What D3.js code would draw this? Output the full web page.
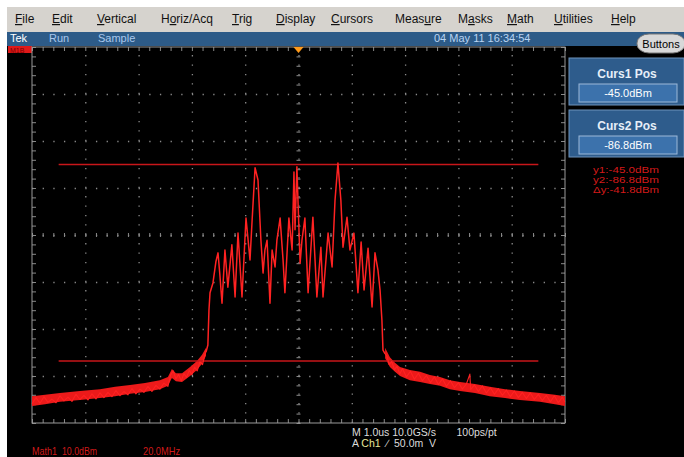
<!DOCTYPE html>
<html>
<head>
<meta charset="utf-8">
<script src="https://cdn.jsdelivr.net/npm/d3@7"></script>
<style>
  html, body { margin: 0; padding: 0; background: #fff; }
  svg { display: block; }
  text { font-family: "Liberation Sans", Arial, sans-serif; }
</style>
</head>
<body>
<svg id="scope"></svg>
<script>
// ---- data (MHz offset from centre, dBm) ----
let sigFreq = [-34.7, -34.0, -33.6, -33.2, -32.1, -31.0, -30.2, -29.5, -28.7, -27.6, -26.5, -25.0, -23.8, -22.7, -21.2,
  -19.7, -18.2, -17.4, -16.3, -15.2, -14.1, -13.3, -12.6, -11.8, -10.7, -9.9, -8.8, -8.1, -6.9, -5.8, -5.1, -3.6,
  -2.4, -1.7, -1.3, -0.6, -0.2, 0.6, 1.3, 2.4, 3.6, 5.4, 6.9, 8.4, 9.2, 11.1, 12.6, 13.7, 14.8, 15.9, 16.7, 18.2,
  19.3, 20.8, 22.3, 23.5, 24.6, 26.1, 27.6, 28.7, 29.8, 30.6, 31.3, 31.7, 32.5]
let sigDb = [-84.9, -83.4, -76.0, -72.3, -70.2, -65.7, -63.8, -68.5, -74.5, -63.2, -71.1, -62.1, -73.2, -59.6, -73.2,
  -56.4, -65.3, -56.8, -45.7, -48.3, -61.1, -68.1, -63.2, -61.1, -74.5, -63.2, -66.8, -61.1, -56.4, -65.3, -72.3, -56.4,
  -63.2, -46.6, -58.9, -45.5, -52.6, -66.0, -61.1, -56.4, -72.3, -56.2, -73.2, -62.6, -73.2, -59.6, -66.8, -52.6, -44.7, -52.6, -62.6, -56.2,
  -63.2, -59.6, -72.3, -61.5, -71.7, -62.8, -75.3, -63.8, -67.4, -71.7, -78.1, -84.5, -85.3]

// noise floor envelope
let floorFreqL = [-100, -95.1, -89.5, -82.0, -74.5, -68.8, -63.2, -57.6, -52.0, -49.0, -47.5, -46.0, -43.7, -40.7, -38.1, -36.2, -34.7]
let floorHiL = [-94.3, -94.0, -93.6, -93.2, -92.8, -92.3, -91.9, -91.5, -90.9, -90.2, -88.5, -89.4, -89.4, -88.1, -86.8, -85.5, -84.0]
let floorLoL = [-96.4, -96.0, -95.5, -95.1, -94.7, -94.3, -93.8, -93.4, -92.8, -92.1, -90.4, -91.1, -91.3, -90.0, -88.7, -87.4, -85.7]

let floorFreqR = [32.5, 34.3, 36.2, 38.1, 41.8, 45.6, 49.3, 53.1, 56.8, 60.6, 66.2, 71.8, 77.5, 83.1, 90.6, 96.2, 100]
let floorHiR = [-84.0, -86.0, -87.2, -88.1, -88.7, -89.1, -89.8, -90.2, -90.9, -91.3, -91.7, -92.3, -92.8, -93.2, -93.6, -94.0, -94.3]
let floorLoR = [-86.2, -88.1, -89.1, -90.0, -90.9, -91.3, -91.7, -92.1, -92.8, -93.2, -93.6, -94.3, -94.7, -95.1, -95.5, -96.0, -96.4]

// noise floor trace itself
let noiseFreqL = [-100, -98.5, -97, -95.5, -94, -92.5, -91, -89.5, -88, -86.5, -85, -83.5, -82, -80.5, -79, -77.5, -76,
  -74.5, -73, -71.5, -70, -68.5, -67, -65.5, -64, -62.5, -61, -59.5, -58, -56.5, -55, -53.5, -52, -50.5, -49, -48, -47,
  -46, -45, -44, -43, -42, -41, -40, -39, -38, -37, -36, -35, -34.7]
let noiseDbL = [-95.9, -94.6, -95.8, -94.4, -95.6, -94.9, -95.7, -94.2, -95.3, -94.5, -95.4, -93.9, -95.0, -94.1, -95.1, -93.8, -94.9,
  -93.6, -94.6, -93.5, -94.4, -93.1, -94.2, -93.3, -94.0, -92.7, -93.8, -92.8, -93.5, -92.2, -93.3, -92.0, -92.8, -91.5, -92.2, -89.8, -88.9,
  -90.6, -89.7, -91.0, -89.5, -90.3, -88.8, -89.7, -88.1, -88.9, -87.0, -87.6, -85.2, -84.9]
let noiseFreqR = [32.5, 33.2, 34, 35, 36, 37, 38, 39, 40.5, 42, 43.5, 45, 46.5, 48, 49.5, 51, 52.5, 54, 55.5, 57, 58.5, 60,
  61.5, 63, 64.3, 64.6, 66, 67.5, 69, 70.5, 72, 73.5, 75, 76.5, 78, 79.5, 81, 82.5, 84, 85.5, 87, 88.5, 90, 91.5, 93,
  94.5, 96, 97.5, 99, 100]
let noiseDbR = [-85.3, -85.8, -87.6, -86.9, -88.7, -87.9, -89.6, -88.4, -90.2, -89.0, -90.7, -89.4, -91.0, -89.9, -91.4, -90.2, -91.8, -90.6, -92.2, -91.0, -92.5, -91.4,
  -92.8, -91.7, -89.6, -92.9, -91.9, -93.3, -92.1, -93.6, -92.5, -93.9, -92.7, -94.1, -93.0, -94.4, -93.2, -94.6, -93.5, -94.8, -93.6, -95.0, -93.9, -95.2, -94.1,
  -95.5, -94.2, -95.7, -94.5, -95.6]

let cursorDb = [-45.0, -86.8]
let cursorSpan = [-90, 90]

let menuItems = ['File', 'Edit', 'Vertical', 'Horiz/Acq', 'Trig', 'Display', 'Cursors', 'Measure', 'Masks', 'Math', 'Utilities', 'Help']
let menuKeys = [0, 0, 0, 1, 0, 0, 0, 4, 1, 0, 0, 0]
let menuX = [15, 52, 97, 161, 232, 276, 331, 395, 458, 507, 554, 611]

let readouts = ['y1:-45.0dBm', 'y2:-86.8dBm', '\u0394y:-41.8dBm']

// ---- layout ----
let width = 684
let height = 457
let plot = {left: 32, right: 565, top: 47, bottom: 423}

let svg = d3.select('#scope').attr('width', width).attr('height', height)

let xScale = d3.scaleLinear().domain([-100, 100]).range([plot.left, plot.right])
let yScale = d3.scaleLinear().domain([-100, -20]).range([plot.bottom, plot.top])

let drawChrome = () => {
  svg.append('rect').attr('width', width).attr('height', height).attr('fill', '#fff')
  svg.append('rect').attr('x', 7).attr('y', 45).attr('width', width - 7).attr('height', height - 45).attr('fill', '#000')

  // menu bar
  svg.append('rect').attr('x', 7).attr('y', 7).attr('width', width - 7).attr('height', 25).attr('fill', '#d6d3ce')
  menuItems.forEach((m, i) => {
    let t = svg.append('text').attr('x', menuX[i]).attr('y', 23).attr('font-size', 12).attr('fill', '#111')
    let k = menuKeys[i]
    if (k > 0) t.append('tspan').text(m.slice(0, k))
    t.append('tspan').attr('text-decoration', 'underline').text(m[k])
    t.append('tspan').text(m.slice(k + 1))
  })

  // status bar
  svg.append('rect').attr('x', 7).attr('y', 32).attr('width', width - 7).attr('height', 14).attr('fill', '#2d5b88')
  svg.append('text').attr('x', 10).attr('y', 42).attr('font-size', 11).attr('fill', '#fff').text('Tek')
  svg.append('text').attr('x', 49).attr('y', 42).attr('font-size', 11).attr('fill', '#a9c7ec').text('Run')
  svg.append('text').attr('x', 98).attr('y', 42).attr('font-size', 11).attr('fill', '#a9c7ec').text('Sample')
  svg.append('text').attr('x', 434).attr('y', 42).attr('font-size', 11).attr('fill', '#b9d3f2').text('04 May 11 16:34:54')

  svg.append('rect').attr('x', 637).attr('y', 34).attr('width', 48).attr('height', 19).attr('rx', 12).attr('ry', 9)
    .attr('fill', '#d8d8d8').attr('stroke', '#777')
  svg.append('text').attr('x', 661).attr('y', 48).attr('text-anchor', 'middle').attr('font-size', 11).attr('fill', '#000').text('Buttons')

  // math marker
  svg.append('rect').attr('x', 8).attr('y', 46).attr('width', 24).attr('height', 7).attr('fill', '#e01818')
  svg.append('text').attr('x', 10).attr('y', 52.5).attr('font-size', 7).attr('fill', '#700').text('M1B')
}

let drawGraticule = () => {
  let g = svg.append('g').attr('class', 'graticule')
  let majorX = d3.range(-100, 101, 20)
  let majorY = d3.range(-100, -19, 10)
  let minorX = d3.range(-100, 101, 4)
  let minorY = d3.range(-100, -19, 2)

  g.append('g').attr('transform', 'translate(0,' + plot.bottom + ')')
    .call(d3.axisBottom(xScale).tickValues(majorX.slice(1, -1)).tickSize(-(plot.bottom - plot.top)).tickFormat(''))
    .call(a => a.select('.domain').remove())
    .selectAll('line').attr('stroke', '#8a8a8a').attr('stroke-width', 1.3).attr('stroke-dasharray', '1.3,8.1')

  g.append('g').attr('transform', 'translate(' + plot.left + ',0)')
    .call(d3.axisLeft(yScale).tickValues(majorY.slice(1, -1)).tickSize(-(plot.right - plot.left)).tickFormat(''))
    .call(a => a.select('.domain').remove())
    .selectAll('line').attr('stroke', '#8a8a8a').attr('stroke-width', 1.3).attr('stroke-dasharray', '1.3,9.36')

  // minor ticks on frame and centre lines
  let tickStyle = sel => sel.selectAll('line').attr('stroke', '#8a8a8a')
  let addX = (y0, dir, size) => g.append('g').attr('transform', 'translate(0,' + y0 + ')')
    .call((dir ? d3.axisBottom(xScale) : d3.axisTop(xScale)).tickValues(minorX).tickSize(size).tickFormat(''))
    .call(a => a.select('.domain').remove()).call(tickStyle)
  let addY = (x0, dir, size) => g.append('g').attr('transform', 'translate(' + x0 + ',0)')
    .call((dir ? d3.axisRight(yScale) : d3.axisLeft(yScale)).tickValues(minorY).tickSize(size).tickFormat(''))
    .call(a => a.select('.domain').remove()).call(tickStyle)
  addX(plot.top, true, 4)
  addX(plot.bottom, false, 4)
  addX(yScale(-60) - 2, true, 4)
  addY(plot.left, true, 4)
  addY(plot.right, false, 4)
  addY(xScale(0) - 2, true, 4)

  g.append('rect').attr('x', plot.left).attr('y', plot.top)
    .attr('width', plot.right - plot.left).attr('height', plot.bottom - plot.top)
    .attr('fill', 'none').attr('stroke', '#9a9a9a').attr('stroke-width', 1)

  // trigger position marker
  let tx = xScale(0)
  svg.append('path').attr('d', `M${tx - 5},${plot.top} L${tx + 5},${plot.top} L${tx},${plot.top + 6}Z`).attr('fill', '#ff9a1a')
}

let drawTrace = () => {
  let band = d3.area().x((d) => xScale(d[0])).y0((d) => yScale(d[2])).y1((d) => yScale(d[1]))
  let left = floorFreqL.map((f, i) => [f, floorHiL[i], floorLoL[i]])
  let right = floorFreqR.map((f, i) => [f, floorHiR[i], floorLoR[i]])
  svg.append('path').datum(left).attr('d', band).attr('fill', '#ec1a1a')
  svg.append('path').datum(right).attr('d', band).attr('fill', '#ec1a1a')

  // cursors
  cursorDb.forEach((c) => {
    svg.append('line').attr('x1', xScale(cursorSpan[0])).attr('x2', xScale(cursorSpan[1]))
      .attr('y1', yScale(c)).attr('y2', yScale(c)).attr('stroke', '#c8161a').attr('stroke-width', 1.4)
  })

  let line = d3.line().x((d) => xScale(d[0])).y((d) => yScale(d[1]))
  let traces = [
    [noiseFreqL, noiseDbL, 1.1],
    [sigFreq, sigDb, 1.5],
    [noiseFreqR, noiseDbR, 1.1]
  ]
  traces.forEach(([fs, ds, w]) => {
    svg.append('path').datum(fs.map((f, i) => [f, ds[i]])).attr('d', line).attr('fill', 'none')
      .attr('stroke', '#ff2222').attr('stroke-width', w).attr('stroke-linejoin', 'round')
  })
}

let drawPanel = () => {
  let boxes = [{title: 'Curs1 Pos', value: '-45.0dBm', y: 58}, {title: 'Curs2 Pos', value: '-86.8dBm', y: 110}]
  boxes.forEach((b) => {
    svg.append('rect').attr('x', 569).attr('y', b.y).attr('width', 115).attr('height', 47)
      .attr('fill', '#2e5c8c').attr('stroke', '#6f93bb').attr('stroke-width', 1)
    svg.append('text').attr('x', 627).attr('y', b.y + 20).attr('text-anchor', 'middle')
      .attr('font-size', 12).attr('font-weight', 'bold').attr('fill', '#e6eef8').text(b.title)
    svg.append('rect').attr('x', 579).attr('y', b.y + 26).attr('width', 98).attr('height', 18)
      .attr('fill', '#3c72ac').attr('stroke', '#9bb8d8').attr('stroke-width', 1)
    svg.append('text').attr('x', 628).attr('y', b.y + 39).attr('text-anchor', 'middle')
      .attr('font-size', 11).attr('fill', '#fff').text(b.value)
  })
  readouts.forEach((r, i) => {
    svg.append('text').attr('x', 593).attr('y', 173 + i * 9.8).attr('font-size', 9)
      .attr('fill', '#d41a1a').attr('textLength', 66).attr('lengthAdjust', 'spacingAndGlyphs').text(r)
  })
}

let drawFooter = () => {
  svg.append('text').attr('x', 352).attr('y', 436).attr('font-size', 10.5).attr('fill', '#dcdcdc')
    .attr('xml:space', 'preserve').text('M 1.0us 10.0GS/s       100ps/pt')
  let t = svg.append('text').attr('x', 352).attr('y', 447).attr('font-size', 10.5).attr('fill', '#dcdcdc')
    .attr('xml:space', 'preserve')
  t.append('tspan').text('A ')
  t.append('tspan').attr('fill', '#e8e89a').text('Ch1')
  t.append('tspan').text('  \u2215  50.0m  V')
  let m = svg.append('g').attr('font-size', 10.5).attr('fill', '#d01a1a')
  m.append('text').attr('x', 32).attr('y', 455).attr('textLength', 25).attr('lengthAdjust', 'spacingAndGlyphs').text('Math1')
  m.append('text').attr('x', 62).attr('y', 455).attr('textLength', 35).attr('lengthAdjust', 'spacingAndGlyphs').text('10.0dBm')
  m.append('text').attr('x', 143).attr('y', 455).attr('textLength', 37).attr('lengthAdjust', 'spacingAndGlyphs').text('20.0MHz')
}

drawChrome()
drawGraticule()
drawTrace()
drawPanel()
drawFooter()
</script>
</body>
</html>
